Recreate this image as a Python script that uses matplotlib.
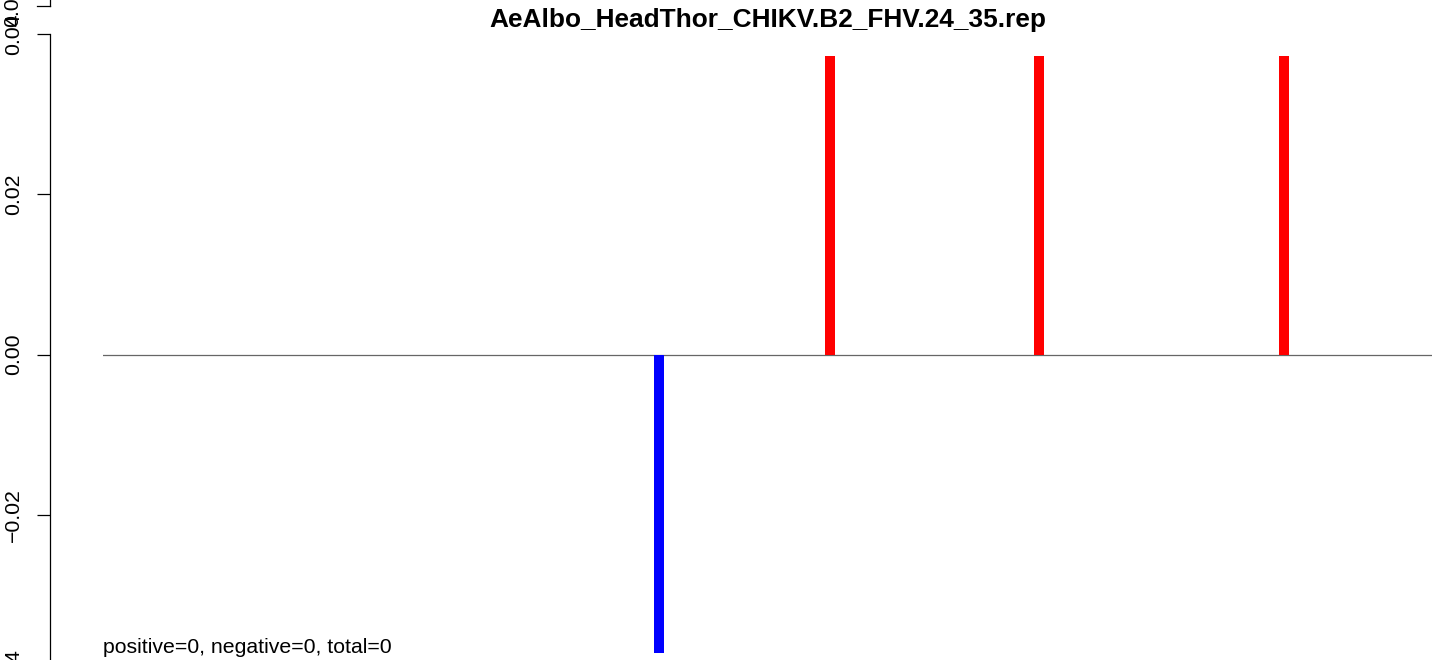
import matplotlib
matplotlib.use("Agg")
import matplotlib.pyplot as plt
from matplotlib.lines import Line2D

plt.rcParams['font.family'] = ['Liberation Sans', 'DejaVu Sans']

# Data
title = "AeAlbo_HeadThor_CHIKV.B2_FHV.24_35.rep"
positions = [41.8, 54.7, 70.4, 88.9]
values = [-0.0372, 0.0372, 0.0372, 0.0372]
colors = ['blue' if v < 0 else 'red' for v in values]
yticks = [-0.04, -0.02, 0.00, 0.02, 0.04]
ytick_labels = ['\u22120.04', '\u22120.02', '0.00', '0.02', '0.04']
note = "positive=0, negative=0, total=0"

W, H = 1441, 660
fig = plt.figure(figsize=(W / 100, H / 100), dpi=100)
ax = fig.add_axes([103 / W, -15 / H, 1329 / W, 641 / H])

ax.axhline(0, color='#666666', linewidth=0.9, zorder=1)
ax.bar(positions, values, width=0.75, color=colors, zorder=2)

ax.set_xlim(0, 100)
ax.set_ylim(-0.04, 0.04)

for side in ['top', 'right', 'bottom']:
    ax.spines[side].set_visible(False)
ax.spines['left'].set_position(('outward', 38.2))
ax.spines['left'].set_bounds(-0.04, 0.04)
ax.spines['left'].set_linewidth(0.9)
ax.set_xticks([])
ax.set_yticks(yticks)
ax.set_yticklabels(ytick_labels)
ax.tick_params(axis='y', length=9.4, width=0.9, pad=10, labelsize=15.3)
plt.setp(ax.get_yticklabels(), rotation=90, va='center')

ax.text(0, -0.0366, note, fontsize=15.3, ha='left', va='center')

fig.text(767.5 / W, 1 - 20 / H, title, fontsize=18.9, fontweight='bold',
         ha='center', va='center')

# remnant of the panel above (cut off at the top edge)
fig.add_artist(Line2D([50 / W, 50 / W], [1.0, 1 - 6 / H], color='black',
                      linewidth=0.9, transform=fig.transFigure))
fig.add_artist(Line2D([37 / W, 50 / W], [1 - 6 / H, 1 - 6 / H], color='black',
                      linewidth=0.9, transform=fig.transFigure))
fig.text(13 / W, 1 - 6 / H, '0.04', fontsize=15.3, rotation=90,
         ha='center', va='center')

fig.savefig('out.png', dpi=100)
